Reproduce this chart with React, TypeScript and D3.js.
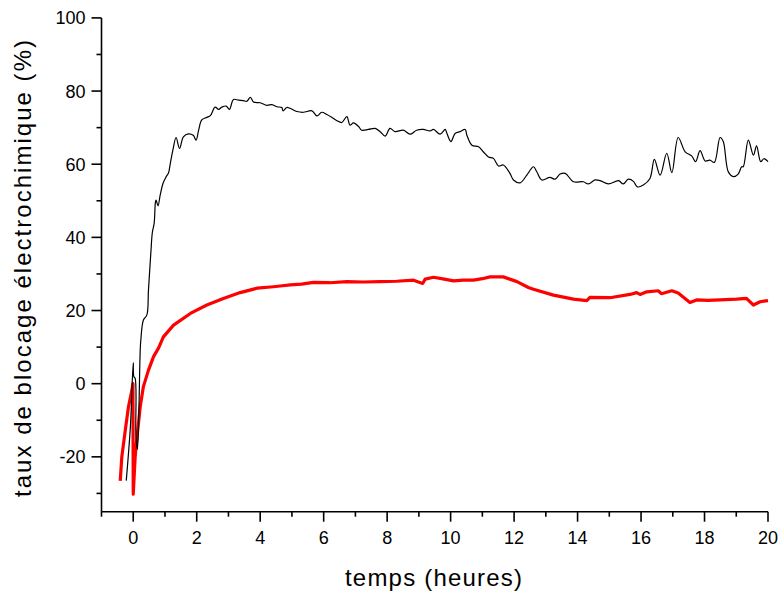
import React from "react";
import * as d3 from "d3";

const blackTime = [
  -0.22, -0.09, 0.0, 0.02, 0.06, 0.085, 0.13, 0.17, 0.22, 0.24, 0.32, 0.43, 0.48, 0.56, 0.6, 0.66, 0.7, 0.72, 0.78, 0.85,
  0.94, 1.04, 1.11, 1.17, 1.25, 1.35, 1.46, 1.58, 1.74, 1.89, 1.98, 2.06, 2.16, 2.32, 2.43, 2.58, 2.69, 2.79, 2.93, 3.03,
  3.16, 3.32, 3.47, 3.58, 3.69, 3.79, 4.0, 4.21, 4.37, 4.53, 4.68, 4.72, 4.84, 4.94, 5.16, 5.36, 5.63, 5.79, 5.94, 6.1,
  6.26, 6.42, 6.57, 6.73, 6.83, 6.94, 7.1, 7.2, 7.41, 7.62, 7.78, 7.94, 8.09, 8.25, 8.51, 8.72, 8.93, 9.14, 9.35, 9.46,
  9.67, 9.83, 9.88, 10.01, 10.14, 10.3, 10.46, 10.51, 10.67, 10.88, 11.03, 11.19, 11.35, 11.51, 11.66, 11.87, 11.98, 12.19, 12.4, 12.61,
  12.71, 12.87, 13.13, 13.29, 13.45, 13.61, 13.87, 14.18, 14.34, 14.55, 14.71, 14.97, 15.29, 15.44, 15.6, 15.76, 15.88, 16.07, 16.28, 16.42,
  16.6, 16.81, 16.97, 17.17, 17.39, 17.6, 17.72, 17.86, 18.02, 18.17, 18.31, 18.49, 18.59, 18.75, 18.91, 19.06, 19.17, 19.22, 19.38, 19.54,
  19.64, 19.77, 19.87, 20.0,
];
const blackValue = [
  -26.5, -11.8, 5.7, 1.9, 1.5, -14, -18, -10, 9.2, 12, 17.4, 18.8, 25.6, 36.5, 41.2, 43.9, 49.7, 50.2, 48.6, 51.6,
  54.8, 56.6, 57.6, 60.3, 63.9, 67.3, 64.3, 67.5, 68.3, 67.9, 66.6, 69.3, 72.1, 72.8, 73.3, 75.6, 75.0, 75.6, 75.9, 75.0,
  77.7, 77.5, 77.4, 77.2, 78.3, 77.0, 76.8, 76.1, 76.3, 75.7, 75.5, 74.6, 75.5, 75.3, 74.4, 74.2, 74.6, 73.2, 74.2, 73.6,
  72.8, 71.9, 71.4, 73.0, 70.7, 71.3, 70.3, 69.3, 69.5, 69.8, 68.9, 67.7, 69.8, 68.9, 69.3, 68.2, 69.3, 69.5, 69.1, 69.5,
  68.2, 69.5, 68.5, 66.2, 68.4, 68.9, 69.5, 68.0, 65.2, 64.8, 63.4, 62.0, 61.6, 59.5, 59.8, 57.5, 55.7, 54.9, 57.0, 59.3,
  58.0, 55.7, 56.4, 55.9, 57.3, 57.5, 55.2, 55.2, 54.6, 55.7, 55.5, 54.6, 55.5, 54.6, 55.9, 55.3, 53.8, 54.3, 56.1, 61.3,
  57.0, 63.0, 57.7, 67.3, 63.4, 62.2, 60.7, 63.7, 60.9, 61.1, 60.5, 67.3, 66.2, 57.9, 56.6, 57.3, 59.3, 59.3, 66.6, 62.5,
  65.0, 60.7, 61.5, 60.7,
];

const redTime = [
  -0.41, -0.36, -0.25, -0.15, -0.04, -0.01, 0.0, 0.06, 0.12, 0.22, 0.32, 0.48, 0.64, 0.8, 0.95, 1.27, 1.8, 2.32, 2.84, 3.37,
  3.9, 4.42, 4.63, 4.95, 5.3, 5.68, 6.2, 6.73, 7.25, 7.78, 8.3, 8.83, 9.12, 9.2, 9.46, 9.8, 10.09, 10.4, 10.72, 11.0,
  11.24, 11.66, 12.09, 12.45, 12.61, 13.24, 13.87, 14.29, 14.39, 15.02, 15.65, 15.86, 15.97, 16.18, 16.54, 16.64, 16.97, 17.17, 17.54, 17.75,
  18.1, 18.49, 19.01, 19.32, 19.54, 19.75, 20.0,
];
const redValue = [
  -26.6, -20, -12.7, -6.3, -1.7, 0, -30.2, -20, -14.5, -6.3, -0.8, 3.7, 7.4, 9.8, 12.8, 16.0, 19.2, 21.5, 23.3, 24.9,
  26.1, 26.5, 26.7, 27.0, 27.2, 27.7, 27.6, 27.9, 27.8, 27.9, 28.0, 28.3, 27.4, 28.6, 29.1, 28.6, 28.1, 28.3, 28.3, 28.7,
  29.2, 29.2, 27.9, 26.3, 25.8, 24.2, 23.1, 22.7, 23.6, 23.5, 24.4, 24.9, 24.4, 25.1, 25.4, 24.6, 25.4, 24.8, 22.2, 22.9,
  22.8, 22.9, 23.1, 23.3, 21.5, 22.4, 22.7,
];

const xMajorTicks = [0, 2, 4, 6, 8, 10, 12, 14, 16, 18, 20];
const xMinorTicks = [-1, 1, 3, 5, 7, 9, 11, 13, 15, 17, 19];
const yMajorTicks = [-20, 0, 20, 40, 60, 80, 100];
const yMinorTicks = [-30, -10, 10, 30, 50, 70, 90];

const xLabel = "temps (heures)";
const yLabel = "taux de blocage électrochimique (%)";

export default function App() {
  const width = 780;
  const height = 594;
  const x = d3.scaleLinear().domain([-1, 20]).range([101.5, 768]);
  const y = d3.scaleLinear().domain([-35, 100]).range([511.7, 17.9]);
  const font = "'Liberation Sans', Arial, sans-serif";

  const black = blackTime.map((t, i) => [t, blackValue[i]] as [number, number]);
  const red = redTime.map((t, i) => [t, redValue[i]] as [number, number]);
  const line = d3
    .line<[number, number]>()
    .x((d) => x(d[0]))
    .y((d) => y(d[1]));
  const smooth = d3
    .line<[number, number]>()
    .x((d) => x(d[0]))
    .y((d) => y(d[1]))
    .curve(d3.curveCatmullRom.alpha(0.5));

  const x0 = x.range()[0];
  const yb = y.range()[0];

  return (
    <svg
      width={width}
      height={height}
      style={{ position: "absolute", left: 0, top: 0, background: "#fff" }}
    >
      <path d={line(red) || ""} fill="none" stroke="#ff0000" strokeWidth={3.2} strokeLinejoin="round" />
      <path d={smooth(black) || ""} fill="none" stroke="#000" strokeWidth={1.2} strokeLinejoin="round" />

      <line x1={x0} x2={x0} y1={y.range()[1]} y2={yb} stroke="#000" strokeWidth={1.6} />
      <line x1={x0} x2={x.range()[1]} y1={yb} y2={yb} stroke="#000" strokeWidth={1.6} />

      {yMajorTicks.map((v) => (
        <g key={"ym" + v}>
          <line x1={x0 - 10} x2={x0} y1={y(v)} y2={y(v)} stroke="#000" strokeWidth={1.6} />
          <text x={x0 - 16} y={y(v)} dy="0.36em" textAnchor="end" fontFamily={font} fontSize={18}>
            {v}
          </text>
        </g>
      ))}
      {yMinorTicks.map((v) => (
        <line key={"yn" + v} x1={x0 - 5} x2={x0} y1={y(v)} y2={y(v)} stroke="#000" strokeWidth={1.6} />
      ))}
      {xMajorTicks.map((v) => (
        <g key={"xm" + v}>
          <line x1={x(v)} x2={x(v)} y1={yb} y2={yb + 10} stroke="#000" strokeWidth={1.6} />
          <text x={x(v)} y={543.5} textAnchor="middle" fontFamily={font} fontSize={18}>
            {v}
          </text>
        </g>
      ))}
      {xMinorTicks.map((v) => (
        <line key={"xn" + v} x1={x(v)} x2={x(v)} y1={yb} y2={yb + 5} stroke="#000" strokeWidth={1.6} />
      ))}

      <text
        x={433.5}
        y={586}
        textAnchor="middle"
        fontFamily={font}
        fontSize={24}
        textLength={177}
        lengthAdjust="spacing"
      >
        {xLabel}
      </text>
      <text
        transform={`translate(31, 268.5) rotate(-90)`}
        textAnchor="middle"
        fontFamily={font}
        fontSize={24}
        textLength={457}
        lengthAdjust="spacing"
      >
        {yLabel}
      </text>
    </svg>
  );
}
